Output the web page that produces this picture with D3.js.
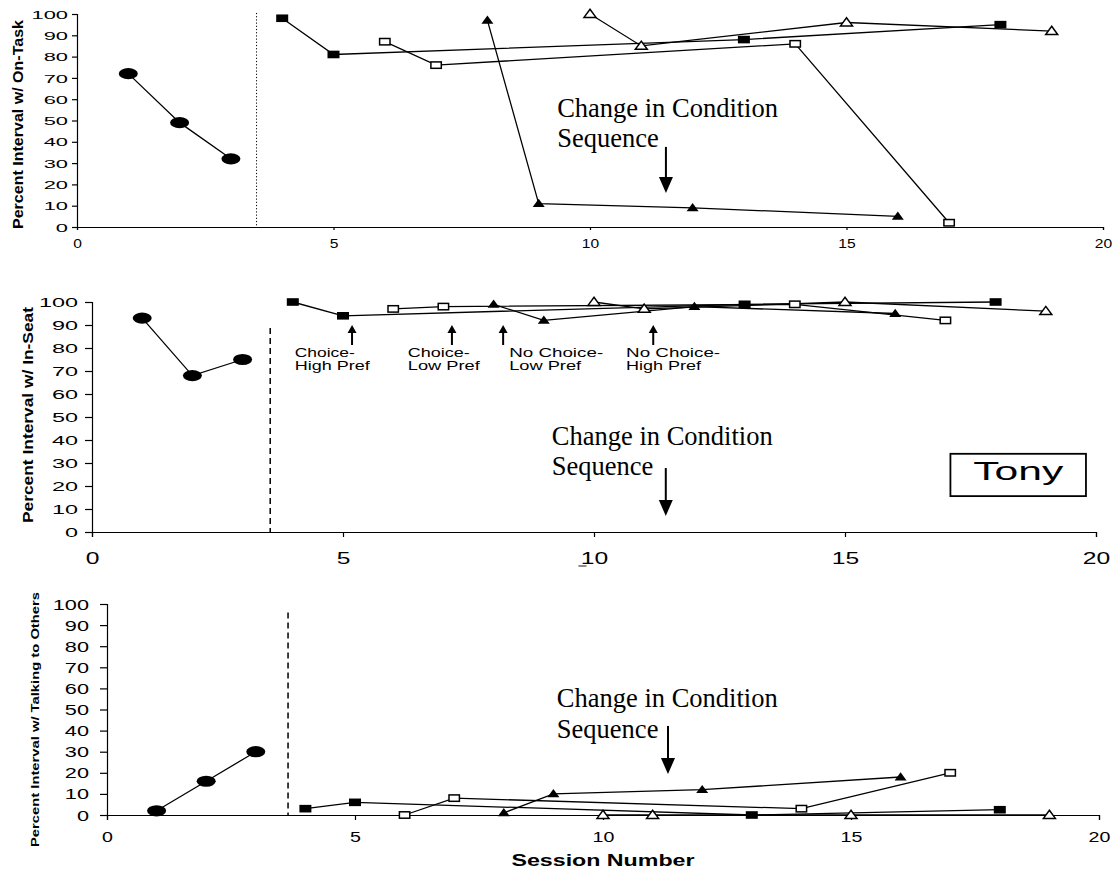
<!DOCTYPE html>
<html><head><meta charset="utf-8">
<script src="https://cdn.jsdelivr.net/npm/d3@7"></script>
<style>
html,body{margin:0;padding:0;background:#fff;}
svg{display:block;}
</style></head>
<body>
<svg id="c" width="1117" height="871"></svg>
<script>
// ---- data ----
const baselineX = [1, 2, 3];
const fsqX = [4, 5, 13, 18];
const osqX = [6, 7, 14, 17];
const ftrX = [8, 9, 12, 16];
const otrX = [10, 11, 15, 19];

const onTaskBaseline = [72, 49, 32];
const onTaskFSq = [98, 81, 88, 95];
const onTaskOSq = [87, 76, 86, 2];
const onTaskFTr = [97, 11, 9, 5];
const onTaskOTr = [100, 85, 96, 92];

const inSeatBaseline = [93, 68, 75];
const inSeatFSq = [100, 94, 99, 100];
const inSeatOSq = [97, 98, 99, 92];
const inSeatFTr = [99, 92, 98, 95];
const inSeatOTr = [100, 97, 100, 96];

const talkBaseline = [2, 16, 30];
const talkFSq = [3, 6, 0, 2.5];
const talkOSq = [0, 8, 3, 20];
const talkFTr = [1, 10, 12, 18];
const talkOTr = [0, 0, 0, 0];

const xTicks = [0, 5, 10, 15, 20];
const yTicks = [0, 10, 20, 30, 40, 50, 60, 70, 80, 90, 100];

const yTitles = ["Percent Interval w/ On-Task", "Percent Interval w/ In-Seat", "Percent Interval w/ Talking to Others"];
const noteLines = ["Change in Condition", "Sequence"];
const condLabels = [["Choice-", "High Pref"], ["Choice-", "Low Pref"], ["No Choice-", "Low Pref"], ["No Choice-", "High Pref"]];
const condArrowX = [5.18, 7.17, 8.19, 11.18];
const xTitle = "Session Number";
const nameLabel = "Tony";

// ---- layout ----
const SANS = "'Liberation Sans', Arial, sans-serif";
const SERIF = "'Liberation Serif', 'Times New Roman', serif";
const svg = d3.select("#c");

function stretchBy(sel, f) {
  sel.each(function () {
    const w = this.getComputedTextLength();
    this.setAttribute("textLength", (w * f).toFixed(2));
    this.setAttribute("lengthAdjust", "spacingAndGlyphs");
  });
}
function fitTo(sel, len) {
  sel.attr("textLength", len).attr("lengthAdjust", "spacingAndGlyphs");
}

const panels = [
  { xr: [77, 1103], yr: [227, 14], data: [onTaskBaseline, onTaskFSq, onTaskOSq, onTaskFTr, onTaskOTr],
    yFont: 11.5, yStretch: 1.9, yTick: 5, yLabGap: 4, xFont: 12, xStretch: 1.3, xTickLen: 3, xLabY: 248,
    phase: { x: 3.5, top: 100.5, dash: "1.2,2" },
    title: { cx: 18, len: 209, font: 14.5 },
    note: { x: 9.36, y1: 51.6, y2: 37.6, ax: 11.48, atop: 37.6, atip: 16 } },
  { xr: [92, 1096], yr: [532, 302], data: [inSeatBaseline, inSeatFSq, inSeatOSq, inSeatFTr, inSeatOTr],
    yFont: 12, yStretch: 1.95, yTick: 7, yLabGap: 7, xFont: 17, xStretch: 1.45, xTickLen: 5, xLabY: 564,
    phase: { x: 3.55, top: 88.7, dash: "6,4" },
    title: { cx: 28, len: 216, font: 14.5 },
    note: { x: 9.16, y1: 37.8, y2: 24.8, ax: 11.43, atop: 27.8, atip: 7 } },
  { xr: [107, 1099], yr: [815, 604], data: [talkBaseline, talkFSq, talkOSq, talkFTr, talkOTr],
    yFont: 14, yStretch: 1.55, yTick: 7, yLabGap: 11, xFont: 14, xStretch: 1.4, xTickLen: 5, xLabY: 842,
    phase: { x: 3.65, top: 96, dash: "6,4" },
    title: { cx: 35, len: 255, font: 11.5 },
    note: { x: 9.07, y1: 51.2, y2: 36.5, ax: 11.31, atop: 42.2, atip: 19.4 } }
];

const seriesX = [baselineX, fsqX, osqX, ftrX, otrX];
const seriesShape = ["circle", "fsq", "osq", "ftr", "otr"];

panels.forEach((p, pi) => {
  const x = d3.scaleLinear().domain([0, 20]).range(p.xr);
  const y = d3.scaleLinear().domain([0, 100]).range(p.yr);
  p.x = x; p.y = y;
  const g = svg.append("g");

  // axes
  const yAxis = d3.axisLeft(y).tickValues(yTicks).tickSize(p.yTick).tickPadding(p.yLabGap).tickFormat(d3.format("d"));
  const ya = g.append("g").attr("transform", `translate(${p.xr[0]},0)`).call(yAxis);
  const xAxis = d3.axisBottom(x).tickValues(xTicks).tickSize(p.xTickLen).tickFormat(d3.format("d"));
  const xa = g.append("g").attr("transform", `translate(0,${p.yr[0]})`).call(xAxis);
  [ya, xa].forEach(a => {
    a.select(".domain").attr("stroke", "#000").attr("stroke-width", 1.2);
    a.selectAll(".tick line").attr("stroke", "#000").attr("stroke-width", 1.2);
  });
  ya.selectAll(".tick text").attr("font-family", SANS).attr("font-size", p.yFont).attr("fill", "#000").attr("dy", "0.36em");
  stretchBy(ya.selectAll(".tick text"), p.yStretch);
  xa.selectAll(".tick text").attr("font-family", SANS).attr("font-size", p.xFont).attr("fill", "#000")
    .attr("dy", null).attr("y", p.xLabY - p.yr[0]);
  stretchBy(xa.selectAll(".tick text"), p.xStretch);

  // phase change line
  g.append("line")
    .attr("x1", x(p.phase.x)).attr("x2", x(p.phase.x))
    .attr("y1", y(p.phase.top)).attr("y2", y(0))
    .attr("stroke", "#000").attr("stroke-width", pi === 0 ? 1 : 1.5)
    .attr("stroke-dasharray", p.phase.dash);

  // series lines
  const line = d3.line().x(d => x(d[0])).y(d => y(d[1]));
  p.data.forEach((vals, si) => {
    const pts = seriesX[si].map((sx, i) => [sx, vals[i]]);
    g.append("path").datum(pts).attr("d", line).attr("fill", "none")
      .attr("stroke", "#000").attr("stroke-width", 1.3);
  });
  // markers
  p.data.forEach((vals, si) => {
    const pts = seriesX[si].map((sx, i) => [sx, vals[i]]);
    const shape = seriesShape[si];
    const mg = g.append("g");
    pts.forEach(d => {
      const cx = x(d[0]), cy = y(d[1]);
      if (shape === "circle") {
        mg.append("ellipse").attr("cx", cx).attr("cy", cy).attr("rx", 9.5).attr("ry", 5.6).attr("fill", "#000");
      } else if (shape === "fsq") {
        mg.append("rect").attr("x", cx - 6).attr("y", cy - 3.8).attr("width", 12).attr("height", 7.6).attr("fill", "#000");
      } else if (shape === "osq") {
        mg.append("rect").attr("x", cx - 5.2).attr("y", cy - 3.2).attr("width", 10.4).attr("height", 6.4)
          .attr("fill", "#fff").attr("stroke", "#000").attr("stroke-width", 1.5);
      } else {
        const tri = `M${cx},${cy - 4.8}L${cx + 6},${cy + 3.4}L${cx - 6},${cy + 3.4}Z`;
        if (shape === "ftr") mg.append("path").attr("d", tri).attr("fill", "#000");
        else mg.append("path").attr("d", tri).attr("fill", "#fff").attr("stroke", "#000").attr("stroke-width", 1.5);
      }
    });
  });

  // y title
  const tcy = (p.yr[0] + p.yr[1]) / 2 + (pi === 0 ? 4 : pi === 1 ? -2 : 10);
  const tt = g.append("text")
    .attr("transform", `translate(${p.title.cx},${tcy}) rotate(-90)`)
    .attr("text-anchor", "middle").attr("dy", "0.35em")
    .attr("font-family", SANS).attr("font-weight", "bold").attr("font-size", p.title.font)
    .attr("fill", "#000").text(yTitles[pi]);
  fitTo(tt, p.title.len);

  // change-in-condition note
  const n = p.note;
  g.append("text").attr("x", x(n.x)).attr("y", y(n.y1)).attr("font-family", SERIF).attr("font-size", 26.5)
    .attr("fill", "#000").text(noteLines[0]);
  g.append("text").attr("x", x(n.x)).attr("y", y(n.y2)).attr("font-family", SERIF).attr("font-size", 26.5)
    .attr("fill", "#000").text(noteLines[1]);
  const ax = x(n.ax), at = y(n.atop), ab = y(n.atip);
  g.append("line").attr("x1", ax).attr("x2", ax).attr("y1", at).attr("y2", ab - 12)
    .attr("stroke", "#000").attr("stroke-width", 2);
  g.append("path").attr("d", `M${ax - 7},${ab - 16}L${ax + 7},${ab - 16}L${ax},${ab}Z`).attr("fill", "#000");
});

// middle panel condition labels
(function () {
  const p = panels[1];
  const x = p.x, y = p.y;
  const textLeftX = [4.04, 6.29, 8.31, 10.64];
  const widths = [[60, 75], [62, 72], [94, 72], [94, 75]];
  condArrowX.forEach((cx, i) => {
    const ax = x(cx), tip = y(90), bot = y(81.3);
    svg.append("line").attr("x1", ax).attr("x2", ax).attr("y1", tip + 6).attr("y2", bot)
      .attr("stroke", "#000").attr("stroke-width", 2);
    svg.append("path").attr("d", `M${ax - 4.5},${tip + 8}L${ax + 4.5},${tip + 8}L${ax},${tip}Z`).attr("fill", "#000");
    condLabels[i].forEach((t, li) => {
      const tx = svg.append("text").attr("x", x(textLeftX[i])).attr("y", y(li === 0 ? 76.1 : 70.4))
        .attr("font-family", SANS).attr("font-size", 12.5).attr("fill", "#000").text(t);
      fitTo(tx, widths[i][li]);
    });
  });
  // small mark before "10"
  svg.append("line").attr("x1", x(9.69)).attr("x2", x(9.85)).attr("y1", 566).attr("y2", 566)
    .attr("stroke", "#666").attr("stroke-width", 1.5);

  // name box
  const bx0 = x(17.1), bx1 = x(19.8), by0 = y(34), by1 = y(15.6);
  svg.append("rect").attr("x", bx0).attr("y", by0).attr("width", bx1 - bx0).attr("height", by1 - by0)
    .attr("fill", "#fff").attr("stroke", "#000").attr("stroke-width", 1.8);
  const nt = svg.append("text").attr("x", x(18.45)).attr("y", y(22.6)).attr("text-anchor", "middle")
    .attr("font-family", SANS).attr("font-size", 25).attr("fill", "#000").text(nameLabel);
  fitTo(nt, 90);
})();

// x title
(function () {
  const p = panels[2];
  const st = svg.append("text").attr("x", p.x(10)).attr("y", 866).attr("text-anchor", "middle")
    .attr("font-family", SANS).attr("font-weight", "bold").attr("font-size", 16).attr("fill", "#000").text(xTitle);
  fitTo(st, 183);
})();
</script>
</body></html>
